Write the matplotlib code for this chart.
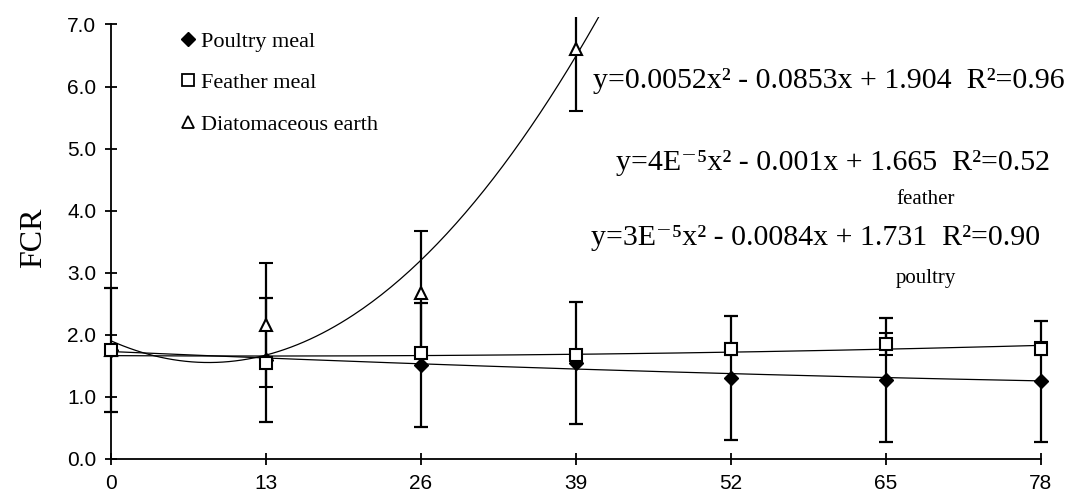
import matplotlib.pyplot as plt
import numpy as np
from matplotlib.lines import Line2D

# sampling days and FCR means / errors
days = [0, 13, 26, 39, 52, 65, 78]
poultry = [1.75, 1.60, 1.52, 1.55, 1.30, 1.27, 1.25]
poultry_err = [1.0, 1.0, 1.0, 0.98, 1.0, 1.0, 0.98]
feather = [1.75, 1.54, 1.70, 1.68, 1.77, 1.85, 1.78]
feather_err = [0.0, 0.05, 0.05, 0.05, 0.1, 0.18, 0.1]
diatom_days = [0, 13, 26, 39]
diatom = [1.75, 2.16, 2.67, 6.60]
diatom_err = [0.0, 1.0, 1.0, 1.0]

# trendline coefficients as printed on the chart (a, b, c for ax^2 + bx + c)
fit_poultry = [3e-5, -0.0084, 1.731]
fit_feather = [4e-5, -0.001, 1.665]
fit_diatom = [0.0052, -0.0853, 1.904]

eq_labels = ['y=0.0052x² - 0.0853x + 1.904  R²=0.96',
             'y=4E⁻⁵x² - 0.001x + 1.665  R²=0.52',
             'y=3E⁻⁵x² - 0.0084x + 1.731  R²=0.90']
legend_labels = ['Poultry meal', 'Feather meal', 'Diatomaceous earth']

serif = ['Liberation Serif', 'DejaVu Serif']
sans = ['Liberation Sans', 'DejaVu Sans']

fig = plt.figure(figsize=(10.66, 5.0), dpi=100)
# axes box is a bit bigger than the drawn spines so edge markers and the steep
# curve are not cut off; spines are bounded to the real 0-78 / 0-7 range
ax = fig.add_axes([0.0873, 0.082, 0.9057, 0.884])

xs = np.linspace(0, 78, 300)
ax.plot(xs, np.polyval(fit_poultry, xs), color='black', lw=0.9, zorder=2)
ax.plot(xs, np.polyval(fit_feather, xs), color='black', lw=0.9, zorder=2)
ax.plot(xs, np.polyval(fit_diatom, xs), color='black', lw=0.9, zorder=2)

ebk = dict(ecolor='black', elinewidth=1.6, capsize=5, capthick=1.6, ls='none')
ax.errorbar(days, poultry, yerr=poultry_err, fmt='D', ms=7, mfc='black', mec='black', zorder=3, **ebk)
ax.errorbar(diatom_days, diatom, yerr=diatom_err, fmt='^', ms=9, mfc='white', mec='black', mew=1.5, zorder=4, **ebk)
ax.errorbar(days, feather, yerr=feather_err, fmt='s', ms=9, mfc='white', mec='black', mew=1.5, zorder=5, **ebk)

ax.set_xlim(-1.5, 79.5)
ax.set_ylim(0, 7.12)
ax.set_xticks(days)
yt = np.arange(0, 7.1, 1.0)
ax.set_yticks(yt)
ax.set_yticklabels([f'{v:.1f}' for v in yt])
for s in ['top', 'right']:
    ax.spines[s].set_visible(False)
for s in ['left', 'bottom']:
    ax.spines[s].set_linewidth(1.3)
ax.spines['left'].set_bounds(0, 7)
ax.spines['bottom'].set_bounds(0, 78)
ax.spines['left'].set_position(('data', 0))
ax.tick_params(direction='inout', length=9, width=1.3, labelsize=15, pad=6)
for lab in ax.get_xticklabels() + ax.get_yticklabels():
    lab.set_family(sans)

ax.set_ylabel('FCR', family=serif, fontsize=23, labelpad=14)

handles = [Line2D([], [], ls='none', marker='D', ms=7, mfc='black', mec='black'),
           Line2D([], [], ls='none', marker='s', ms=9, mfc='white', mec='black', mew=1.3),
           Line2D([], [], ls='none', marker='^', ms=9, mfc='white', mec='black', mew=1.3)]
fig.legend(handles, legend_labels, loc='upper left', bbox_to_anchor=(0.151, 0.978), frameon=False,
           handlelength=0.6, handletextpad=0.3, labelspacing=0.95, prop={'family': serif, 'size': 16})

fig.text(0.999, 1 - 81 / 500, eq_labels[0], ha='right', va='center', family=serif, fontsize=21.5)
fig.text(0.985, 1 - 163 / 500, eq_labels[1], ha='right', va='center', family=serif, fontsize=21.5)
fig.text(926 / 1066, 1 - 200 / 500, 'feather', ha='center', va='center', family=serif, fontsize=15)
fig.text(0.976, 1 - 238 / 500, eq_labels[2], ha='right', va='center', family=serif, fontsize=21.5)
fig.text(926 / 1066, 1 - 278 / 500, 'poultry', ha='center', va='center', family=serif, fontsize=15)

fig.savefig('out.png', dpi=100)
